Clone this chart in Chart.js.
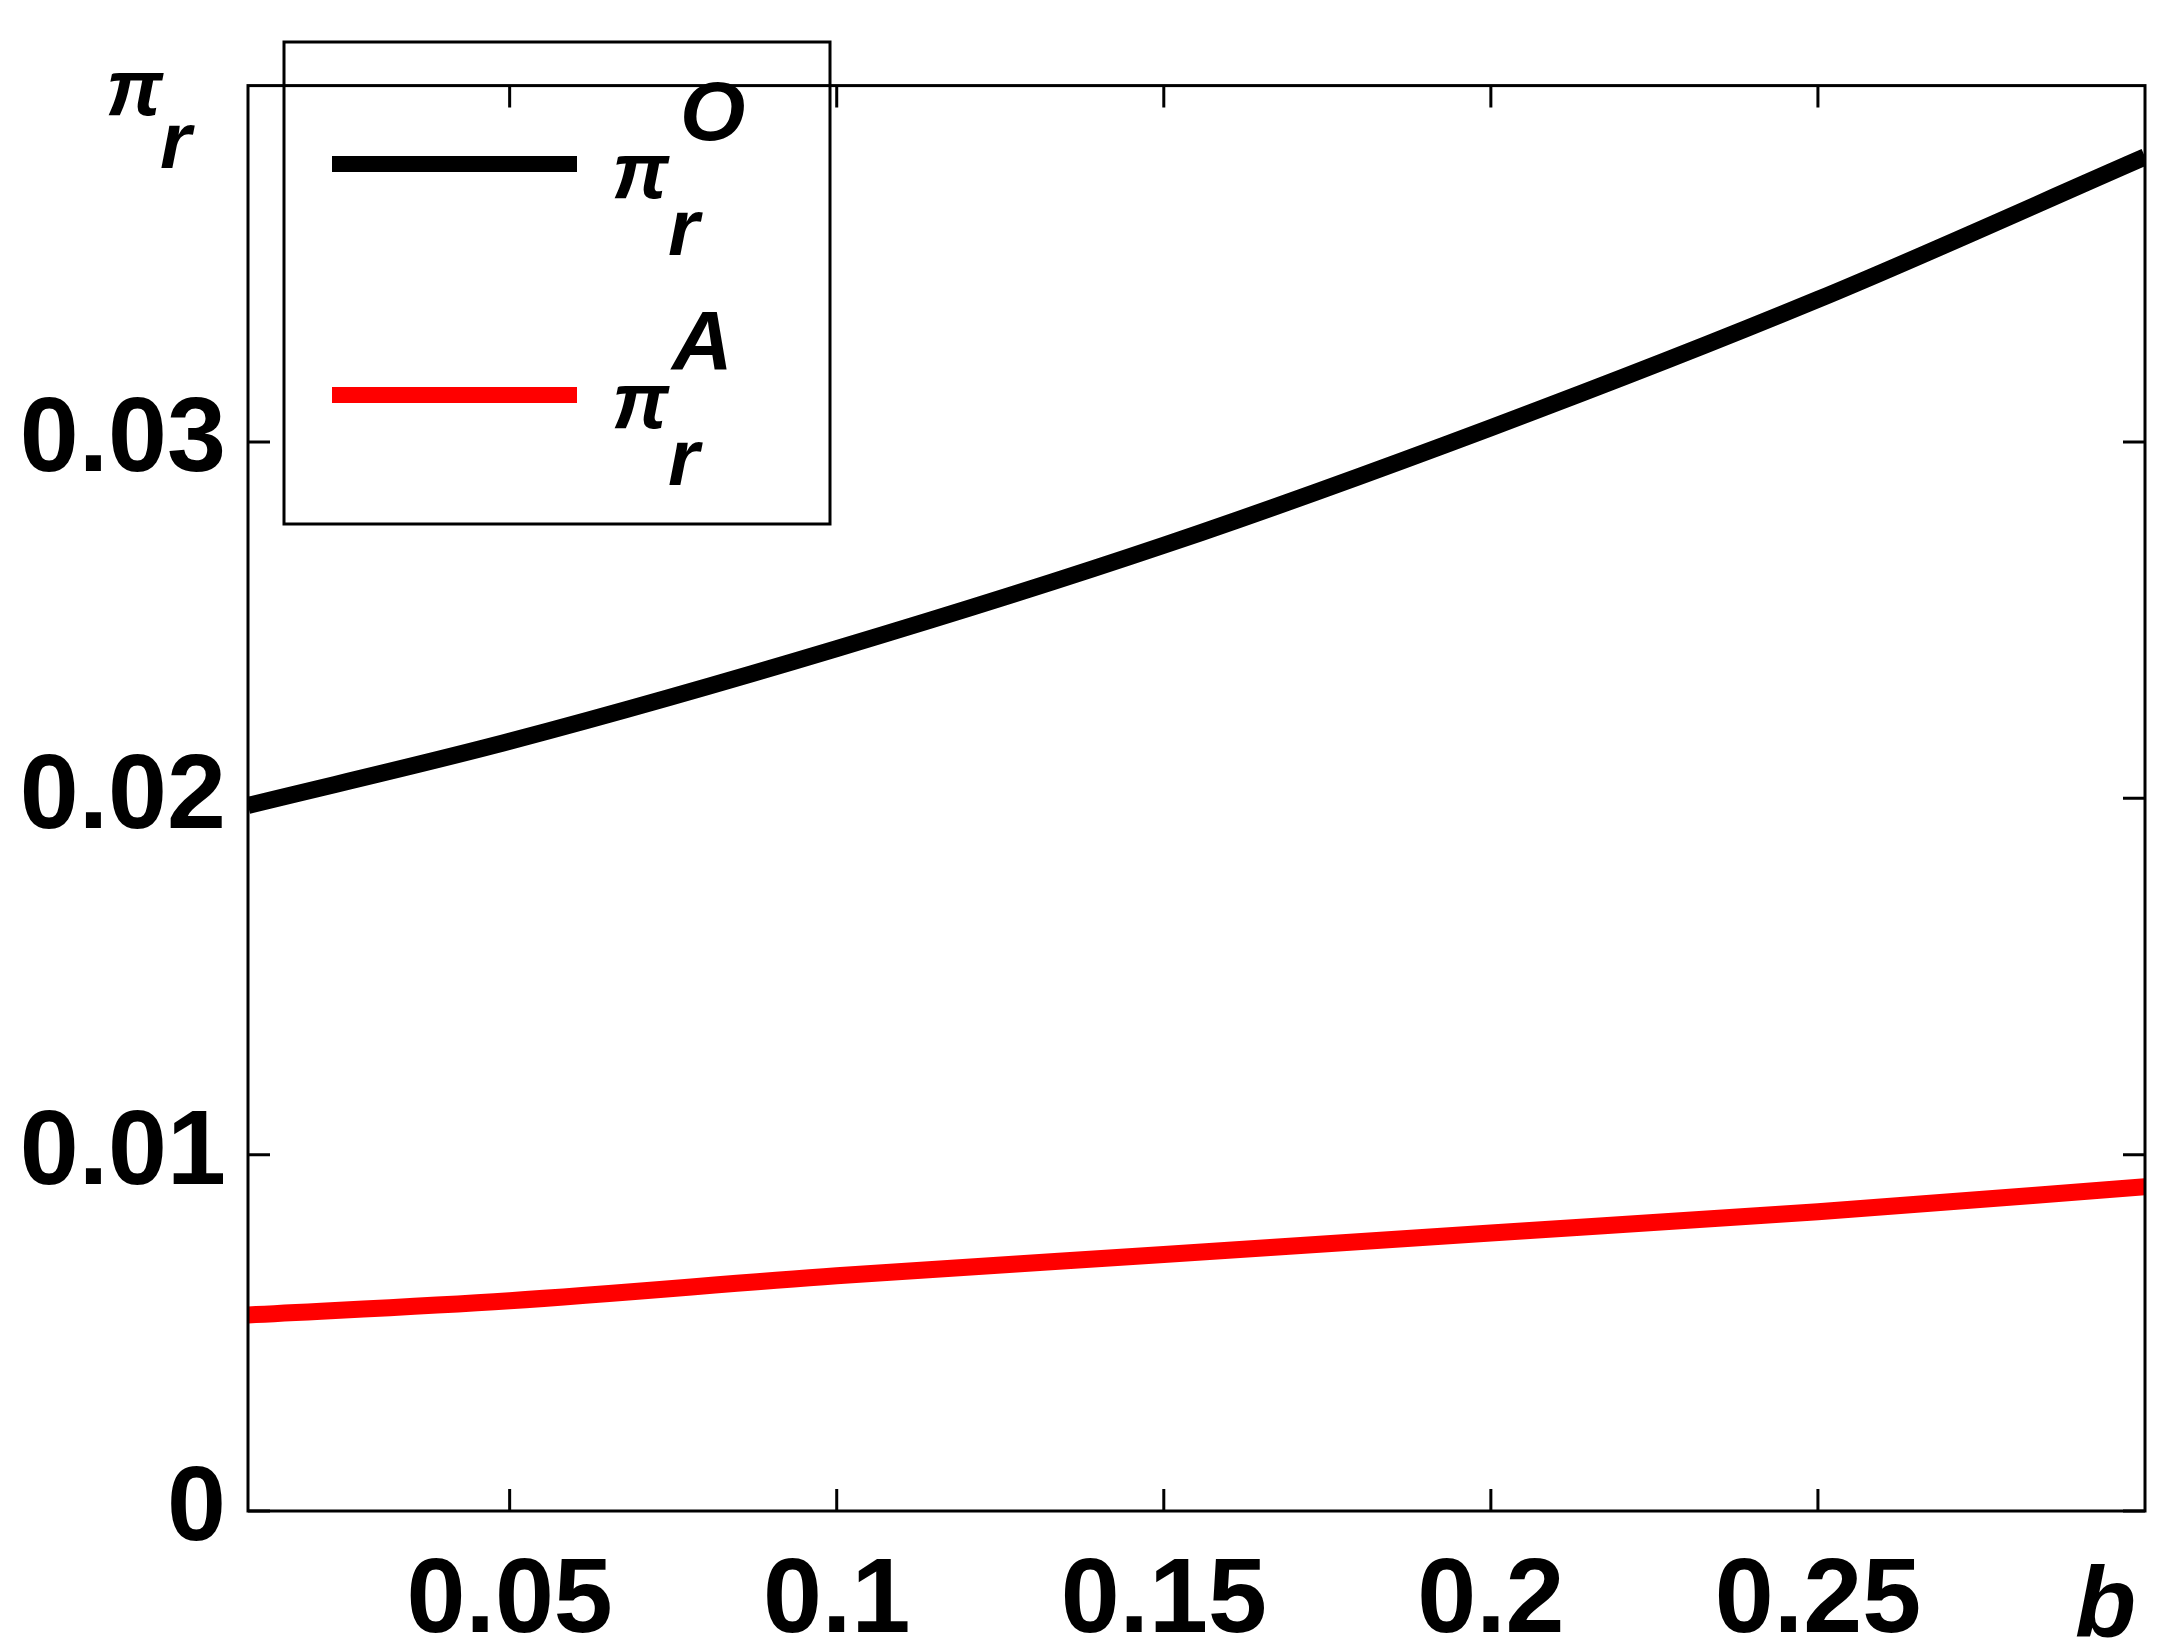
<!DOCTYPE html>
<html><head><meta charset="utf-8">
<script src="https://cdn.jsdelivr.net/npm/chart.js@4"></script>
<style>html,body{margin:0;padding:0;background:#fff}canvas{display:block}</style>
</head><body>
<div style="width:2163px;height:1647px"><canvas id="c"></canvas></div>
<script>
const bValues = [0.01, 0.05, 0.1, 0.15, 0.2, 0.25, 0.3];
const piO = [0.0198, 0.0216, 0.0242, 0.0271, 0.0304, 0.0340, 0.0380];
const piA = [0.0055, 0.0059, 0.0066, 0.0072, 0.0078, 0.0084, 0.0091];
const xTicks = [0.05, 0.1, 0.15, 0.2, 0.25];
const yTicks = [0, 0.01, 0.02, 0.03];
const FONT = '"Liberation Sans", Arial, sans-serif';

const deco = {
  id: 'deco',
  afterDraw(ch) {
    const c = ch.ctx, a = ch.chartArea, xs = ch.scales.x, ys = ch.scales.y;
    c.save();
    c.strokeStyle = '#000'; c.lineWidth = 3;
    c.strokeRect(a.left, a.top, a.right - a.left, a.bottom - a.top);
    const L = 22;
    xTicks.forEach(v => { const p = xs.getPixelForValue(v);
      c.beginPath(); c.moveTo(p, a.bottom); c.lineTo(p, a.bottom - L);
      c.moveTo(p, a.top); c.lineTo(p, a.top + L); c.stroke(); });
    yTicks.forEach(v => { const p = ys.getPixelForValue(v);
      c.beginPath(); c.moveTo(a.left, p); c.lineTo(a.left + L, p);
      c.moveTo(a.right, p); c.lineTo(a.right - L, p); c.stroke(); });
    c.fillStyle = '#000'; c.textBaseline = 'alphabetic'; c.textAlign = 'left';
    c.font = 'italic bold 100px ' + FONT;
    c.fillText('b', 2075, 1637);
    c.font = 'italic bold 80px ' + FONT;
    c.fillText('π', 106, 115);
    c.fillText('r', 160, 168);
    c.lineWidth = 3;
    c.strokeRect(284, 42, 546, 482);
    c.lineWidth = 16; c.lineCap = 'butt';
    c.strokeStyle = '#000';
    c.beginPath(); c.moveTo(332, 164); c.lineTo(577, 164); c.stroke();
    c.strokeStyle = '#ff0000';
    c.beginPath(); c.moveTo(332, 395); c.lineTo(577, 395); c.stroke();
    c.fillStyle = '#000';
    c.font = 'italic bold 80px ' + FONT;
    c.fillText('π', 612, 198); c.fillText('r', 668, 255);
    c.fillText('π', 612, 428); c.fillText('r', 668, 485);
    c.font = 'italic bold 84px ' + FONT;
    c.fillText('O', 680, 140); c.fillText('A', 672, 370);
    c.restore();
  }
};

new Chart(document.getElementById('c'), {
  type: 'line',
  data: { datasets: [
    { data: bValues.map((b,i)=>({x:b,y:piO[i]})), borderColor:'#000', borderWidth:17, pointRadius:0, cubicInterpolationMode:'monotone' },
    { data: bValues.map((b,i)=>({x:b,y:piA[i]})), borderColor:'#ff0000', borderWidth:17, pointRadius:0, cubicInterpolationMode:'monotone' }
  ]},
  options: {
    responsive:true, maintainAspectRatio:false, animation:false,
    layout:{padding:{top:-52,right:18,left:0,bottom:0}},
    plugins:{legend:{display:false},tooltip:{enabled:false}},
    scales:{
      x:{type:'linear', min:0.01, max:0.3,
        afterBuildTicks: s => { s.ticks = xTicks.map(v=>({value:v})); },
        afterFit: s => { s.height = 136; },
        grid:{display:false, drawTicks:false}, border:{display:false},
        ticks:{font:{family:FONT,size:106,weight:'bold'}, color:'#000', padding:28, maxRotation:0,
          callback: v => String(v)}},
      y:{type:'linear', min:0, max:0.04,
        afterBuildTicks: s => { s.ticks = yTicks.map(v=>({value:v})); },
        afterFit: s => { s.width = 248; },
        grid:{display:false, drawTicks:false}, border:{display:false},
        ticks:{font:{family:FONT,size:106,weight:'bold'}, color:'#000', padding:22,
          callback: v => String(v)}}
    }
  },
  plugins:[deco]
});
</script>
</body></html>
